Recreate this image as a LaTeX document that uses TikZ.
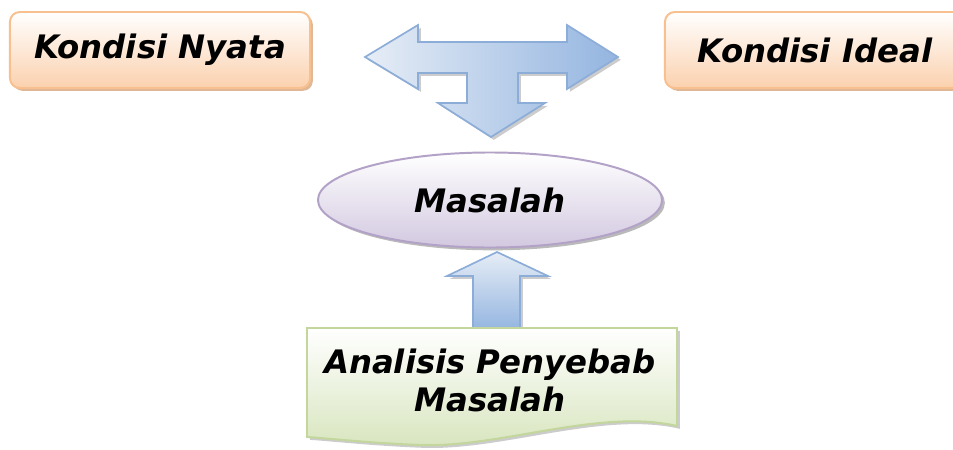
\documentclass[tikz,border=0pt]{standalone}
\usepackage{fontspec}
\setmainfont{DejaVu Sans}[BoldItalicFont={DejaVu Sans Bold Oblique}]
\usetikzlibrary{shapes.geometric}
\usetikzlibrary{shadows}
\definecolor{peachline}{HTML}{F8C08F}
\definecolor{peachfill}{HTML}{FBD1AE}
\definecolor{peachshadow}{HTML}{D9A67C}
\definecolor{blueline}{HTML}{8DADD9}
\definecolor{bluefill}{HTML}{94B5E0}
\definecolor{bluelight}{HTML}{E6EDF6}
\definecolor{lilacline}{HTML}{B3A2C7}
\definecolor{lilacfill}{HTML}{D2C8E0}
\definecolor{greenline}{HTML}{C3D69B}
\definecolor{greenfill}{HTML}{D8E5BE}
\tikzset{teks/.style = {font=\fontsize{23}{27}\selectfont\bfseries\itshape, align=center}}
\tikzset{box/.style = {teks, rectangle, rounded corners=7pt, draw=peachline, line width=1.4pt,
                       top color=white, bottom color=peachfill,
                       minimum width=7.5cm, minimum height=1.9cm,
                       drop shadow={shadow xshift=2pt, shadow yshift=-2pt, fill=peachshadow, opacity=0.8}}}
\tikzset{oval/.style = {teks, ellipse, draw=lilacline, line width=1.4pt,
                        top color=white, bottom color=lilacfill,
                        minimum width=8.6cm, minimum height=2.375cm,
                        drop shadow={shadow xshift=2pt, shadow yshift=-2pt, fill=black!45, opacity=0.6}}}
\tikzset{panah/.style = {draw=blueline, line width=1.2pt, line join=miter,
                         drop shadow={shadow xshift=2pt, shadow yshift=-2pt, fill=black!40, opacity=0.5}}}
\tikzset{lembar/.style = {draw=greenline, line width=1.4pt, top color=white, bottom color=greenfill,
                          drop shadow={shadow xshift=2pt, shadow yshift=-2pt, fill=black!40, opacity=0.5}}}

\begin{document}
\begin{tikzpicture}[x=0.025cm, y=-0.025cm]
      \useasboundingbox (0, 0) rectangle (953, 449);

      \node [box] (nyata) at (160, 50) {Kondisi Nyata};
      \node [box] (ideal) at (815, 50) {Kondisi Ideal};

      % panah T
      \draw [panah, left color=bluelight, right color=bluefill]
        (365, 57) -- (418, 25) -- (418, 42) -- (567, 42) -- (567, 25) -- (618, 57)
        -- (567, 89) -- (567, 73) -- (518, 73) -- (518, 103) -- (545, 103) -- (491, 137)
        -- (438, 103) -- (467, 103) -- (467, 73) -- (418, 73) -- (418, 89) -- cycle;

      \node [oval] (masalah) at (490, 200) {Masalah};

      % panah ke atas
      \draw [panah, top color=bluelight, bottom color=bluefill]
        (497, 252) -- (548, 276) -- (520, 276) -- (520, 330) -- (473, 330)
        -- (473, 276) -- (447, 276) -- cycle;

      \draw [lembar] (307, 328) -- (677, 328) -- (677, 426)
        .. controls (600, 408) and (500, 448) .. (420, 445)
        .. controls (370, 443) and (335, 439) .. (307, 437) -- cycle;
      \node [teks] (analisis) at (490, 380) {Analisis Penyebab\\Masalah};
\end{tikzpicture}
\end{document}
